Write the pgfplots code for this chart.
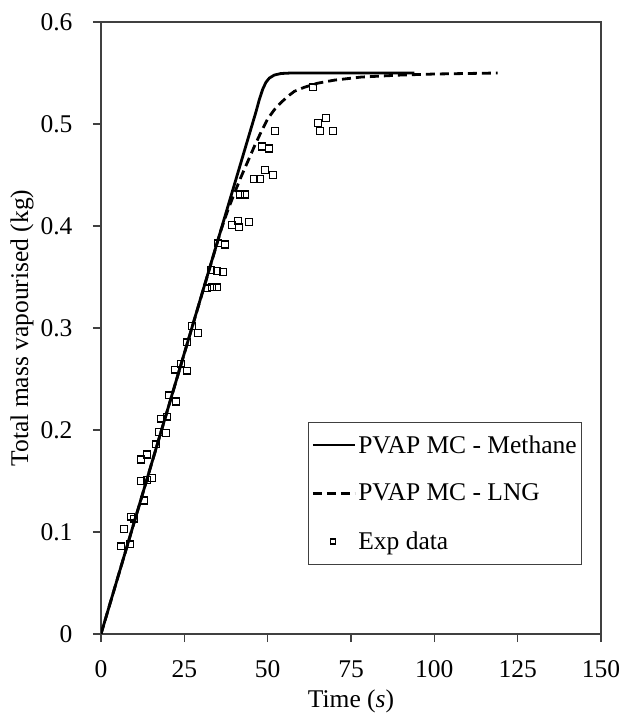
\documentclass[border=0pt]{standalone}
\usepackage{fontspec}
\setmainfont{Liberation Serif}
\usepackage{pgfplots}
\pgfplotsset{compat=1.18}
\newcommand{\bigf}{\fontsize{25.5}{30}\selectfont}
\pgfplotsset{
  lineleg/.style={legend image code/.code={\draw[##1] (0pt,0pt) -- (42pt,0pt);}},
  markleg/.style={legend image code/.code={\draw[##1, mark size=2.6pt] plot coordinates {(20pt,0pt)};}},
}
\begin{document}
\begin{tikzpicture}
\useasboundingbox (0,0) rectangle (622pt,715pt);
\begin{axis}[
  at={(101pt,81pt)}, anchor=south west,
  scale only axis, width=500pt, height=612pt,
  xmin=0, xmax=150, ymin=0, ymax=0.6,
  xtick={0,25,...,150}, ytick={0,0.1,0.2,0.3,0.4,0.5,0.6},
  tick align=outside, xtick pos=bottom, ytick pos=left,
  major tick length=8pt,
  axis line style={black!75, line width=1.3pt},
  every tick/.style={black!75, line width=1.3pt},
  tick label style={font=\bigf},
  /pgf/number format/assume math mode=true,
  /pgf/number format/fixed, /pgf/number format/precision=1,
  yticklabel style={xshift=-17pt},
  xticklabel style={yshift=-15pt},
  xlabel={Time (\textit{s})},
  ylabel={Total mass vapourised (kg)},
  every axis x label/.style={at={(axis description cs:0.5,-0.1095)}, anchor=center, font=\bigf},
  every axis y label/.style={at={(axis description cs:-0.158,0.5)}, rotate=90, anchor=center, font=\bigf},
  legend style={at={(axis cs:62.1,0.208)}, anchor=north west, draw=black!75, line width=1pt,
    font=\bigf, inner xsep=3pt, inner ysep=11pt, row sep=25.5pt, cells={anchor=west}, fill=white},
]
\addplot[black, line width=2.8pt, lineleg]
 coordinates {(0,0) (46.5,0.512) (47.5,0.524) (48.5,0.534) (49.5,0.541) (50.5,0.545) (52,0.548) (54,0.5495) (57,0.55) (94,0.55)};
\addlegendentry{PVAP MC - Methane}
\addplot[black, line width=2.8pt, dash pattern=on 9pt off 5pt, lineleg]
 coordinates {(0,0) (36,0.396) (38,0.415) (40,0.432) (42,0.448) (44,0.463) (46,0.478) (48,0.492) (50,0.505) (52,0.514) (54,0.521) (56,0.527) (58,0.532) (61,0.536) (65,0.540) (70,0.543) (78,0.546) (90,0.548) (100,0.549) (119,0.55)};
\addlegendentry{PVAP MC - LNG}
\addplot[black, only marks, mark=square, mark size=3.4pt, mark options={line width=1.5pt}, markleg]
 coordinates {
 (6.0,0.086) (8.7,0.088) (6.9,0.103) (9.0,0.115) (9.9,0.113) (12.9,0.131) (12.0,0.150) (13.8,0.151)
 (15.3,0.153) (12.0,0.171) (13.8,0.176) (16.5,0.186) (17.4,0.198) (19.5,0.197) (18.0,0.211) (19.8,0.213)
 (22.5,0.228) (20.4,0.234) (22.2,0.259) (24.0,0.265) (25.8,0.258) (25.8,0.286) (27.3,0.302) (29.1,0.295)
 (31.8,0.339) (33.3,0.340) (34.8,0.340) (33.0,0.357) (34.8,0.356) (36.6,0.355) (35.1,0.383) (37.2,0.382)
 (39.3,0.401) (41.1,0.405) (41.4,0.399) (44.4,0.404) (41.7,0.431) (43.2,0.431) (45.9,0.446) (47.7,0.446)
 (49.2,0.455) (51.6,0.450) (48.3,0.478) (50.4,0.476) (52.2,0.493) (63.6,0.536) (65.1,0.501) (67.5,0.506)
 (65.7,0.493) (69.6,0.493)};
\addlegendentry{Exp data}
\end{axis}
\end{tikzpicture}
\end{document}
